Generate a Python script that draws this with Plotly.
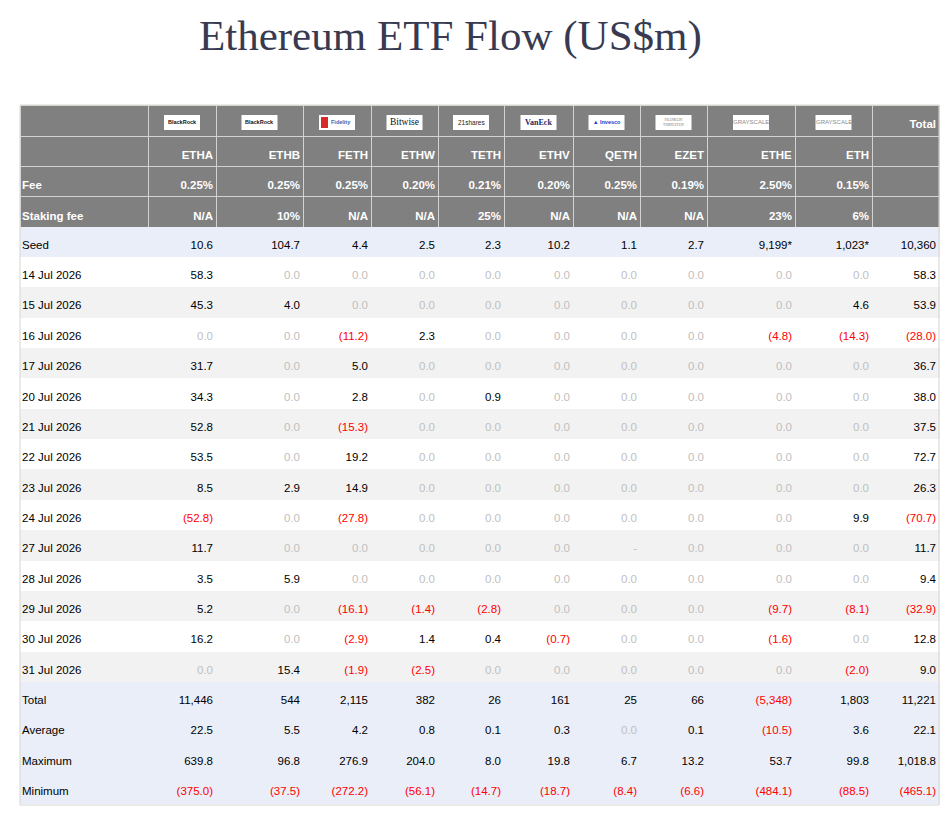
import plotly.graph_objects as go

# ---------------- data ----------------
tickers = ["ETHA", "ETHB", "FETH", "ETHW", "TETH", "ETHV", "QETH", "EZET", "ETHE", "ETH"]
issuers = ["BlackRock", "BlackRock", "Fidelity", "Bitwise", "21shares", "VanEck",
           "Invesco", "Franklin Templeton", "Grayscale", "Grayscale"]
fees = ["0.25%", "0.25%", "0.25%", "0.20%", "0.21%", "0.20%", "0.25%", "0.19%", "2.50%", "0.15%"]
staking_fees = ["N/A", "10%", "N/A", "N/A", "25%", "N/A", "N/A", "N/A", "23%", "6%"]
seed = [10.6, 104.7, 4.4, 2.5, 2.3, 10.2, 1.1, 2.7, 9199, 1023]
seed_flag = [False, False, False, False, False, False, False, False, True, True]
seed_total = 10360

dates = ["14 Jul 2026", "15 Jul 2026", "16 Jul 2026", "17 Jul 2026", "20 Jul 2026",
         "21 Jul 2026", "22 Jul 2026", "23 Jul 2026", "24 Jul 2026", "27 Jul 2026",
         "28 Jul 2026", "29 Jul 2026", "30 Jul 2026", "31 Jul 2026"]
etha = [58.3, 45.3, 0.0, 31.7, 34.3, 52.8, 53.5, 8.5, -52.8, 11.7, 3.5, 5.2, 16.2, 0.0]
ethb = [0.0, 4.0, 0.0, 0.0, 0.0, 0.0, 0.0, 2.9, 0.0, 0.0, 5.9, 0.0, 0.0, 15.4]
feth = [0.0, 0.0, -11.2, 5.0, 2.8, -15.3, 19.2, 14.9, -27.8, 0.0, 0.0, -16.1, -2.9, -1.9]
ethw = [0.0, 0.0, 2.3, 0.0, 0.0, 0.0, 0.0, 0.0, 0.0, 0.0, 0.0, -1.4, 1.4, -2.5]
teth = [0.0, 0.0, 0.0, 0.0, 0.9, 0.0, 0.0, 0.0, 0.0, 0.0, 0.0, -2.8, 0.4, 0.0]
ethv = [0.0, 0.0, 0.0, 0.0, 0.0, 0.0, 0.0, 0.0, 0.0, 0.0, 0.0, 0.0, -0.7, 0.0]
qeth = [0.0, 0.0, 0.0, 0.0, 0.0, 0.0, 0.0, 0.0, 0.0, None, 0.0, 0.0, 0.0, 0.0]
ezet = [0.0, 0.0, 0.0, 0.0, 0.0, 0.0, 0.0, 0.0, 0.0, 0.0, 0.0, 0.0, 0.0, 0.0]
ethe = [0.0, 0.0, -4.8, 0.0, 0.0, 0.0, 0.0, 0.0, 0.0, 0.0, 0.0, -9.7, -1.6, 0.0]
eth = [0.0, 4.6, -14.3, 0.0, 0.0, 0.0, 0.0, 0.0, 9.9, 0.0, 0.0, -8.1, 0.0, -2.0]
daily_total = [58.3, 53.9, -28.0, 36.7, 38.0, 37.5, 72.7, 26.3, -70.7, 11.7, 9.4, -32.9, 12.8, 9.0]

totals = [11446, 544, 2115, 382, 26, 161, 25, 66, -5348, 1803, 11221]
averages = [22.5, 5.5, 4.2, 0.8, 0.1, 0.3, 0.0, 0.1, -10.5, 3.6, 22.1]
maxima = [639.8, 96.8, 276.9, 204.0, 8.0, 19.8, 6.7, 13.2, 53.7, 99.8, 1018.8]
minima = [-375.0, -37.5, -272.2, -56.1, -14.7, -18.7, -8.4, -6.6, -484.1, -88.5, -465.1]

title = "Ethereum ETF Flow (US$m)"

# ---------------- styling ----------------
OFF = 8                      # default body margin of the page
W, H = 952 - 2 * OFF, 800
GRAY_HDR = "#808080"
HDR_LINE = "#d2d2d2"
BLUE_ROW = "#eaeef8"
ALT_ROW = "#f2f2f2"
ZERO_C = "#c0c0c0"
NEG_C = "#ff0000"
POS_C = "#000000"
CLEAR = "rgba(0,0,0,0)"
FONT = "Liberation Sans"
FS = 11.5
col_px = [128, 68, 87, 68, 67, 66, 69, 67, 67, 88, 77, 67]
TBL_LEFT, TBL_TOP, TBL_BOTTOM = 20, 105, 805
HDR_H = 31
ROW_H = 30.36
TXT_DX, TXT_DY, TXT_LEFT = 5, 5, 14   # text layer offsets (cancel the fixed cell padding)


def px(x):
    return min(max((x - OFF) / W, 0), 1)


def py(y):
    return min(max(1 - (y - OFF) / H, 0), 1)


def fmt(v, dec=1):
    if v is None:
        return "-", ZERO_C
    if round(v, dec) == 0:
        return f"{0:.{dec}f}", ZERO_C
    if v < 0:
        return f"({-v:,.{dec}f})", NEG_C
    return f"{v:,.{dec}f}", POS_C


series = [etha, ethb, feth, ethw, teth, ethv, qeth, ezet, ethe, eth, daily_total]

# row fills
row_fill = [GRAY_HDR] * 3 + [BLUE_ROW] + \
    [("#ffffff" if i % 2 == 0 else ALT_ROW) for i in range(len(dates))] + [BLUE_ROW] * 4
row_line = [HDR_LINE] * 3 + row_fill[3:]

# label column
label_vals = ["", "<b>Fee</b>", "<b>Staking fee</b>", "Seed"] + dates + \
    ["Total", "Average", "Maximum", "Minimum"]
label_cols = ["#ffffff"] * 3 + [POS_C] * (len(label_vals) - 3)

values = [label_vals]
colors = [label_cols]
for j in range(11):
    if j < 10:
        v = [f"<b>{tickers[j]}</b>", f"<b>{fees[j]}</b>", f"<b>{staking_fees[j]}</b>"]
        s = seed[j]
        stxt = f"{s:,.0f}" if s >= 1000 else f"{s:.1f}"
        if seed_flag[j]:
            stxt += "*"
    else:
        v = ["", "", ""]
        stxt = f"{seed_total:,}"
    c = ["#ffffff"] * 3
    v.append(stxt)
    c.append(POS_C)
    for val in series[j]:
        t, col = fmt(val, 1)
        v.append(t)
        c.append(col)
    for arr, dec in [(totals, 0), (averages, 1), (maxima, 1), (minima, 1)]:
        t, col = fmt(arr[j], dec)
        v.append(t)
        c.append(col)
    values.append(v)
    colors.append(c)

ncol = len(values)
nrow = len(label_vals)
tbl_right = TBL_LEFT + sum(col_px)

# layer 1: fills and grid lines
fill_table = go.Table(
    domain=dict(x=[px(TBL_LEFT), px(tbl_right)], y=[py(TBL_BOTTOM + 2), py(TBL_TOP)]),
    columnwidth=col_px,
    header=dict(values=[""] * ncol, fill=dict(color=GRAY_HDR),
                line=dict(color=HDR_LINE, width=1), height=HDR_H),
    cells=dict(values=[[""] * nrow for _ in range(ncol)],
               fill=dict(color=[row_fill] * ncol),
               line=dict(color=[row_line] * ncol, width=1), height=ROW_H),
)

# layer 2: text, slightly offset so it sits centred / flush like the reference
txt_widths = [col_px[0] + TXT_DX + (TBL_LEFT - TXT_LEFT)] + col_px[1:]
text_table = go.Table(
    domain=dict(x=[px(TXT_LEFT), px(TXT_LEFT + sum(txt_widths))],
                y=[py(TBL_BOTTOM + 2 + TXT_DY), py(TBL_TOP + TXT_DY)]),
    columnwidth=txt_widths,
    header=dict(
        values=[""] * (ncol - 1) + ["<b>Total</b>"],
        fill=dict(color=CLEAR), line=dict(color=CLEAR, width=0),
        font=dict(family=FONT, size=FS, color="#ffffff"),
        align=["left"] + ["right"] * (ncol - 1),
        height=HDR_H,
    ),
    cells=dict(
        values=values,
        fill=dict(color=CLEAR), line=dict(color=CLEAR, width=0),
        font=dict(family=FONT, size=FS, color=colors),
        align=["left"] + ["right"] * (ncol - 1),
        height=ROW_H,
    ),
)

fig = go.Figure([fill_table, text_table])

# issuer logos (drawn as small white badges with text)
logo_style = {
    "BlackRock": dict(text="<b>BlackRock</b>", family=FONT, size=5.5, color="#111111"),
    "Fidelity": dict(text="<b>Fidelity</b>", family=FONT, size=5.5, color="#3b63b5"),
    "Bitwise": dict(text="Bitwise", family="Liberation Serif", size=9.5, color="#111111"),
    "21shares": dict(text="21shares", family=FONT, size=6.5, color="#222222"),
    "VanEck": dict(text="<b>VanEck</b>", family="Liberation Serif", size=8, color="#1c2a6b"),
    "Invesco": dict(text="<b>▲ Invesco</b>", family=FONT, size=5.5, color="#1a3cc8"),
    "Franklin Templeton": dict(text="FRANKLIN<br>TEMPLETON", family="Liberation Serif", size=3.5, color="#777777"),
    "Grayscale": dict(text="GRAYSCALE", family=FONT, size=6, color="#8a8a8a"),
}
shapes = []
annotations = []
edge = TBL_LEFT + col_px[0]
for i, iss in enumerate(issuers):
    w = col_px[i + 1]
    cx = edge + w / 2
    edge += w
    shapes.append(dict(type="rect", xref="paper", yref="paper",
                       x0=px(cx - 18), x1=px(cx + 18), y0=py(130), y1=py(115),
                       fillcolor="#ffffff", line=dict(width=0), layer="above"))
    st = logo_style[iss]
    tx = cx
    if iss == "Fidelity":
        shapes.append(dict(type="rect", xref="paper", yref="paper",
                           x0=px(cx - 16), x1=px(cx - 9), y0=py(128), y1=py(117),
                           fillcolor="#d62b2b", line=dict(width=0), layer="above"))
        tx = cx + 4
    annotations.append(dict(x=px(tx), y=py(122.5), xref="paper", yref="paper",
                            text=st["text"], showarrow=False, xanchor="center", yanchor="middle",
                            font=dict(family=st["family"], size=st["size"], color=st["color"])))

# outer border of the table
shapes.append(dict(type="rect", xref="paper", yref="paper",
                   x0=px(TBL_LEFT), x1=px(tbl_right), y0=py(TBL_BOTTOM), y1=py(TBL_TOP),
                   line=dict(color="#d8d5ce", width=1), fillcolor=CLEAR, layer="above"))

annotations.append(dict(x=px(450), y=py(36), xref="paper", yref="paper", text=title,
                        showarrow=False, xanchor="center", yanchor="middle",
                        font=dict(family="Liberation Serif", size=43, color="#373a51")))

fig.update_layout(
    width=W, height=H,
    margin=dict(l=0, r=0, t=0, b=0),
    paper_bgcolor="#ffffff",
    shapes=shapes,
    annotations=annotations,
)
fig.write_html("out.html")
